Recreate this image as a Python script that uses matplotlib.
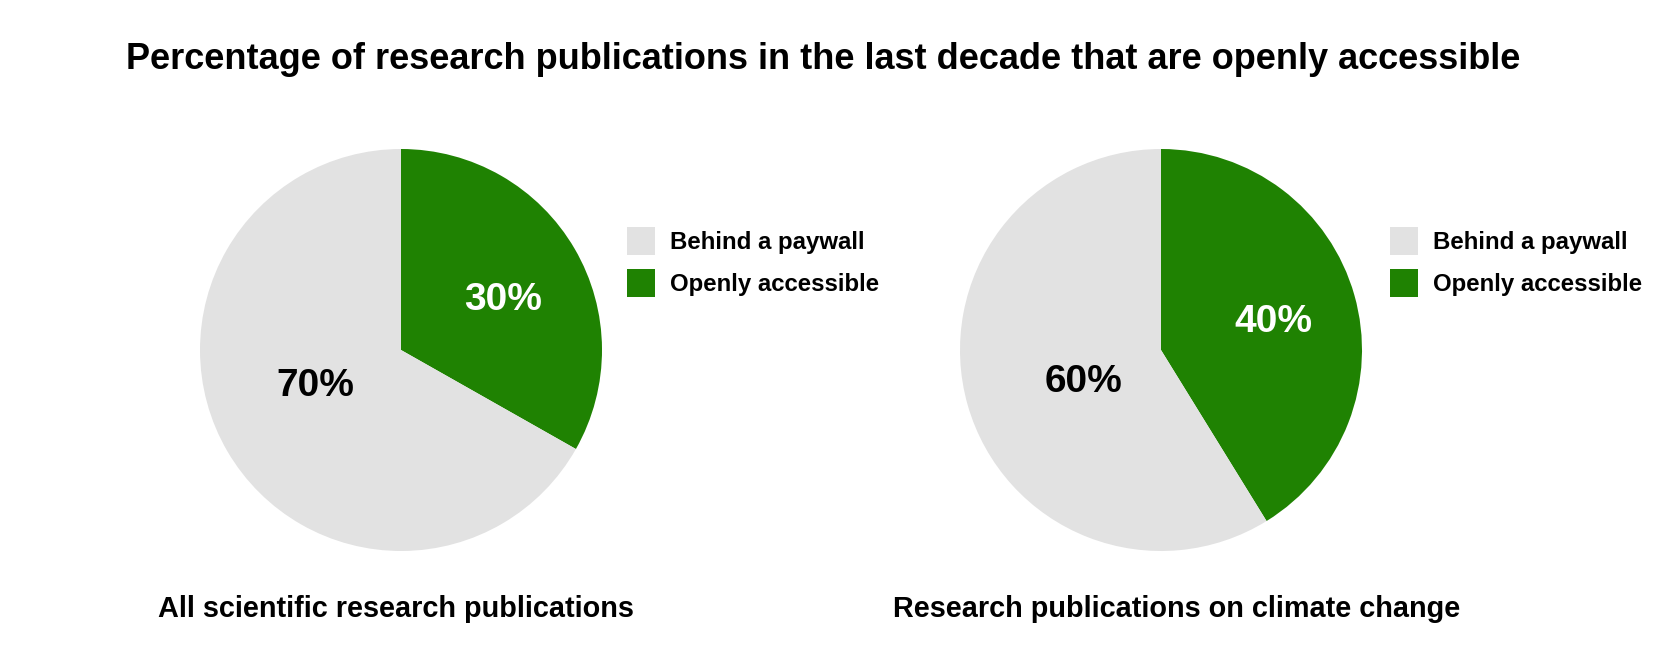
import matplotlib
matplotlib.use("Agg")
import matplotlib.pyplot as plt
from matplotlib.patches import Patch
import numpy as np

plt.rcParams['font.family'] = ['Liberation Sans', 'DejaVu Sans']
plt.rcParams['font.weight'] = 'bold'

title = "Percentage of research publications in the last decade that are openly accessible"
categories = ["Openly accessible", "Behind a paywall"]
legend_order = ["Behind a paywall", "Openly accessible"]
chart_titles = ["All scientific research publications", "Research publications on climate change"]
# slice sizes
open_access = [33.2, 41.2]
paywall = [66.8, 58.8]
# labels as printed on the chart
open_labels = ["30%", "40%"]
paywall_labels = ["70%", "60%"]

colors = {"Openly accessible": "#1f8202", "Behind a paywall": "#e2e2e2"}
text_colors = {"Openly accessible": "white", "Behind a paywall": "black"}

W, H = 1680, 652
fig = plt.figure(figsize=(W / 100, H / 100), dpi=100)

# layout in pixels (style only)
centers = [(401, 350), (1161, 350)]
R = 201
legend_x = [627, 1390]
subtitle_x = [396, 1177]
label_radial = {0: [0.57, 0.46], 1: [0.58, 0.41]}
label_shift_cw = {0: [2.75, 9.0], 1: [0.6, -4.5]}

fig.text(823 / W, 1 - 69 / H, title, ha='center', va='baseline', fontsize=26, fontweight='bold')

for i in range(2):
    cx, cy = centers[i]
    ax = fig.add_axes([(cx - R) / W, (H - cy - R) / H, 2 * R / W, 2 * R / H])
    vals = [open_access[i], paywall[i]]
    labs = [open_labels[i], paywall_labels[i]]
    wedges, _ = ax.pie(vals, colors=[colors[c] for c in categories], startangle=90,
                       counterclock=False, radius=1, wedgeprops=dict(linewidth=0))
    ax.set_xlim(-1, 1)
    ax.set_ylim(-1, 1)
    ax.set_aspect('equal')
    ax.axis('off')
    for j, (w, c) in enumerate(zip(wedges, categories)):
        mid = (w.theta1 + w.theta2) / 2 - label_shift_cw[i][j]
        r = label_radial[i][j]
        ax.annotate(labs[j], xy=(r * np.cos(np.radians(mid)), r * np.sin(np.radians(mid))),
                    xytext=(0, -3), textcoords='offset pixels',
                    ha='center', va='center', fontsize=28, fontweight='bold', color=text_colors[c])
    handles = [Patch(facecolor=colors[c], edgecolor='none', label=c) for c in legend_order]
    fig.legend(handles=handles, loc='upper left',
               bbox_to_anchor=(legend_x[i] / W, 1 - 227 / H), frameon=False,
               prop=dict(family=['Liberation Sans', 'DejaVu Sans'], weight='bold', size=17.3),
               handlelength=1.17, handleheight=1.42, handletextpad=0.62, labelspacing=0.59,
               borderpad=0, borderaxespad=0)
    fig.text(subtitle_x[i] / W, 1 - 617 / H, chart_titles[i], ha='center', va='baseline',
             fontsize=20.8, fontweight='bold')

fig.savefig("out.png", dpi=100, facecolor='white')
